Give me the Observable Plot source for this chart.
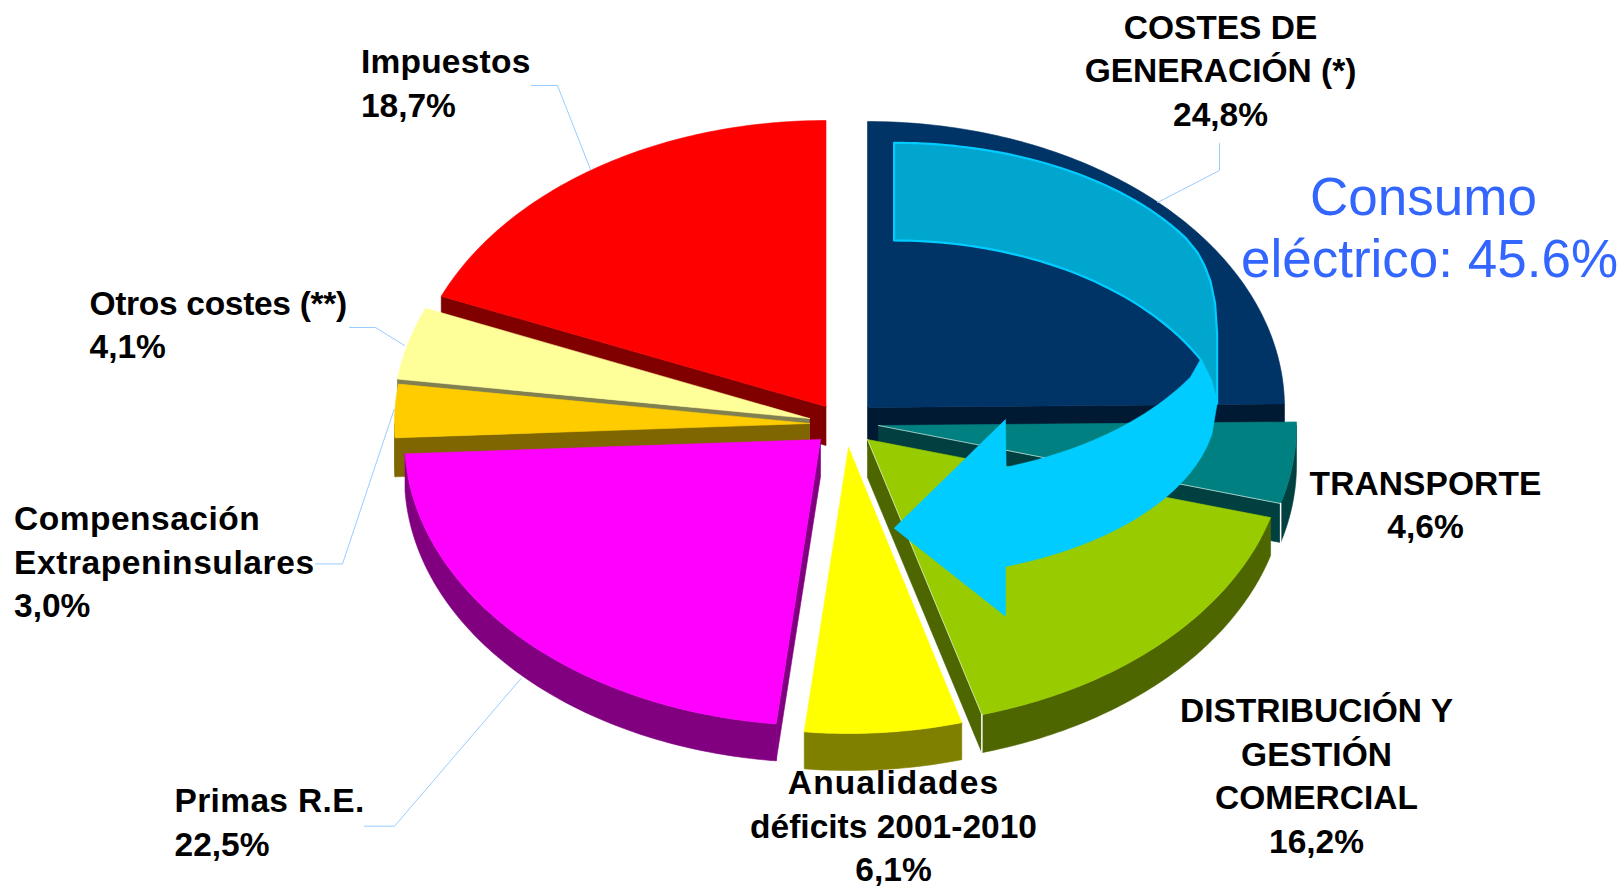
<!DOCTYPE html>
<html><head><meta charset="utf-8">
<script src="https://cdn.jsdelivr.net/npm/d3@7"></script>
<script src="https://cdn.jsdelivr.net/npm/@observablehq/plot@0.6"></script>
<style>html,body{margin:0;padding:0;background:#fff;overflow:hidden}svg{display:block}</style>
</head><body><div id="chart"></div>
<script>
// --- values (clockwise from 12 o'clock) ---
const categories = ["COSTES DE GENERACIÓN (*)","TRANSPORTE","DISTRIBUCIÓN Y GESTIÓN COMERCIAL","Anualidades déficits 2001-2010","Primas R.E.","Compensación Extrapeninsulares","Otros costes (**)","Impuestos"];
const shares = [24.8,4.6,16.2,6.1,22.5,3.0,4.1,18.7];
const shareLabels = ["24,8%","4,6%","16,2%","6,1%","22,5%","3,0%","4,1%","18,7%"];
const labelNames = ["COSTES DE\nGENERACIÓN (*)","TRANSPORTE","DISTRIBUCIÓN Y\nGESTIÓN\nCOMERCIAL","Anualidades\ndéficits 2001-2010","Primas R.E.","Compensación\nExtrapeninsulares","Otros costes (**)","Impuestos"];
const calloutLines = ["Consumo","eléctrico: 45.6%"];

// --- styling and layout, apart from the values ---
const topColors  = ["#003366","#008080","#99cc00","#ffff00","#ff00ff","#ffcc00","#ffff99","#ff0000"];
const sideColors = ["#001a33","#004040","#4d6600","#808000","#800080","#806600","#808050","#800000"];
const apexX = [867,878,867,848,820,809,809,825.5];
const apexY = [407,425,439,447,439,423,418,406];
const radiiX = [417,418,419,415,416,415,416,417];
const depths = [39,39,38,37,37,39,39,39];
const labelX = [1220,1425,1316,893,174,13.5,89,360.4];
const labelY = [68,502,773,823.5,819.5,559.5,322,80.5];
const labelAnchor = ["middle","middle","middle","middle","start","start","start","start"];
const calloutX = [1423,1429];
const calloutY = [197.5,259.5];
const lineSpacing = {"Extrapeninsulares":0.6,"Compensación":0.5,"Anualidades":1.1,"Otros costes (**)":-0.3,"Impuestos":0.23,"Primas R.E.":0.35,"TRANSPORTE":0.1};
const leaderLines = [
  [[1219,143],[1219,170],[1157,202]],
  [[364,825.7],[394,825.7],[520.5,678]],
  [[315,563.4],[342,563.4],[393.6,409]],
  [[349,327],[375,327],[404,345]],
  [[531,85],[557,85],[590,169]]
];
const arrowOuterEnd = [[1197,252],[1204,265],[1210,281],[1214.6,303],[1216.6,333],[1216.6,403]];
const arrowBackEdge = [[1216.6,403],[1210.4,380],[1200,359]];
const arrowHead = [[1005,419],[893.6,527.7],[1005,615.7],[1005,566]];

const ry = 286;

// Angular extents follow the shares
const ends = d3.cumsum(shares);
const total = d3.sum(shares);
const toRad = v => v / total * 2 * Math.PI;
const pt = (i, a, dy = 0) => [apexX[i] + radiiX[i] * Math.sin(a), apexY[i] - ry * Math.cos(a) + dy];
function arc(i, a0, a1, dy = 0) {
  const n = Math.max(2, Math.ceil((a1 - a0) / 0.015));
  return d3.range(n + 1).map(k => pt(i, a0 + (a1 - a0) * k / n, dy));
}
// quarter-ellipse outline pieces of the curved arrow annotation
function bend(cx, cy, a, b, x0, x1, sign) {
  return d3.range(41).map(k => {
    const x = x0 + (x1 - x0) * k / 40;
    return [x, cy + sign * b * Math.sqrt(Math.max(0, 1 - ((x - cx) / a) ** 2))];
  });
}
const poly = (pts, fill, extra = {}) => Plot.line([...pts, pts[0]], {x: d => d[0], y: d => d[1], fill, stroke: fill, strokeWidth: 0.6, curve: "linear", ...extra});
const path = (pts, stroke, strokeWidth) => Plot.line(pts, {x: d => d[0], y: d => d[1], stroke, strokeWidth, curve: "linear"});

function sliceMarks(i) {
  const depth = depths[i];
  const a0 = toRad(ends[i] - shares[i]), a1 = toRad(ends[i]);
  const apex = [apexX[i], apexY[i]], apexD = [apexX[i], apexY[i] + depth];
  const marks = [];
  if (a0 > Math.PI) marks.push(poly([apex, pt(i, a0), pt(i, a0, depth), apexD], sideColors[i]));
  if (a1 < Math.PI) marks.push(poly([apex, pt(i, a1), pt(i, a1, depth), apexD], sideColors[i]));
  const r0 = Math.max(a0, Math.PI / 2), r1 = Math.min(a1, 1.5 * Math.PI);
  if (r1 > r0) marks.push(poly([...arc(i, r0, r1), ...arc(i, r0, r1, depth).reverse()], sideColors[i]));
  marks.push(poly([apex, ...arc(i, a0, a1)], topColors[i]));
  if (i === 1 || i === 2) {
    marks.push(path([apex, pt(i, a1)], "#dfeee0", 0.7));
    marks.push(path([pt(i, a1), pt(i, a1, depth)], "#ffffff", 1.5));
  }
  return marks;
}
const order = [7, 6, 5, 0, 1, 2, 4, 3];

const labelData = categories.map((c, i) => ({category: c, text: labelNames[i] + "\n" + shareLabels[i], x: labelX[i], y: labelY[i], anchor: labelAnchor[i]}));

const backOutline = [
  ...bend(893.6, 338.3, 340, 196, 893.6, 1185, -1),
  ...arrowOuterEnd,
  ...arrowBackEdge,
  ...bend(893.6, 460, 345, 220, 1200, 893.6, -1)
];
const frontOutline = [
  [1200, 359],
  ...bend(893.6, 270.4, 345, 207.5, 1190, 1005.6, 1),
  ...arrowHead,
  ...bend(893.6, 403, 323, 173.6, 1005, 1216.6, 1),
  ...arrowBackEdge
];

const chart = Plot.plot({
  width: 1624, height: 887, margin: 0,
  x: {domain: [0, 1624], range: [0, 1624], axis: null},
  y: {domain: [0, 887], range: [0, 887], axis: null},
  style: {background: "#fff"},
  marks: [
    ...order.flatMap(sliceMarks),
    ...leaderLines.map(l => path(l, "#99ccff", 1)),
    poly(backOutline, "#00a6ce", {stroke: "#00ccff", strokeWidth: 2.2}),
    poly(frontOutline, "#00ccff"),
    ...["start", "middle"].map(anchor => Plot.text(labelData.filter(d => d.anchor === anchor), {
      x: "x", y: "y", text: "text", textAnchor: anchor, lineAnchor: "middle", lineHeight: 1.3,
      fontFamily: "Liberation Sans", fontWeight: "bold", fontSize: 33.5, fill: "#000"
    })),
    Plot.text(calloutLines, {
      x: (d, i) => calloutX[i], y: (d, i) => calloutY[i], text: d => d, textAnchor: "middle", lineAnchor: "middle",
      fontFamily: "Liberation Sans", fontSize: 53, fill: "#3366ff"
    })
  ]
});
d3.select(chart).selectAll("text, tspan").each(function () {
  const s = lineSpacing[this.textContent];
  if (s !== undefined) this.style.letterSpacing = s + "px";
});
document.getElementById("chart").append(chart);
</script></body></html>
